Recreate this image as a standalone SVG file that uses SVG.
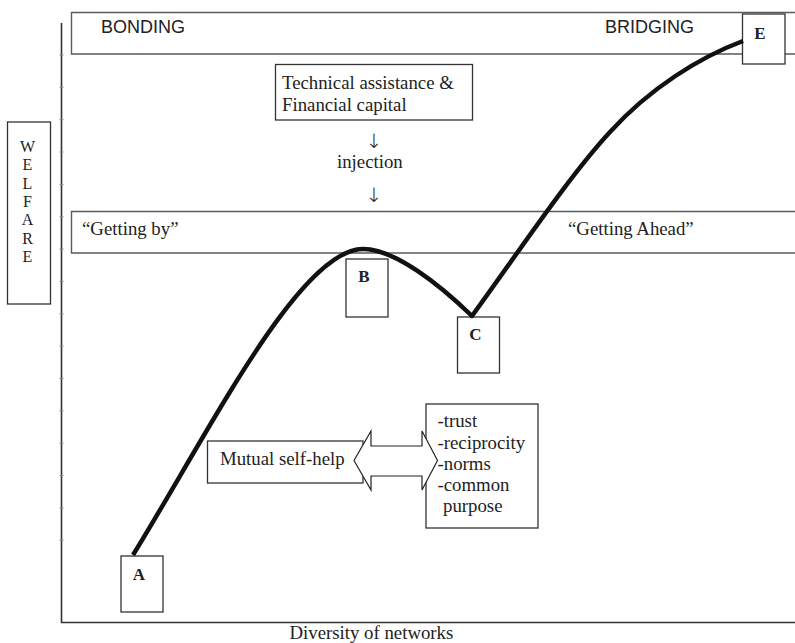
<svg xmlns="http://www.w3.org/2000/svg" width="795" height="643" viewBox="0 0 795 643">
<style>
.ser{font-family:"Liberation Serif","Times New Roman","DejaVu Serif",serif;fill:#222;font-size:18.8px}
.sans{font-family:"Liberation Sans",Arial,sans-serif;fill:#222;font-size:18px}
.lbl{font-family:"Liberation Serif","Times New Roman",serif;fill:#222;font-size:17px;font-weight:bold;text-anchor:middle}
.arr{font-family:"DejaVu Sans",sans-serif;font-weight:200;fill:#222;font-size:20px;text-anchor:middle}
.box{fill:#fff;stroke:#333;stroke-width:1.3}
.band{fill:none;stroke:#5a5a5a;stroke-width:1.4}
.axis{fill:none;stroke:#333;stroke-width:1.6}
.tick{stroke:#888;stroke-width:1}
.curve{fill:none;stroke:#111;stroke-width:4.5;stroke-linejoin:round;stroke-linecap:butt}
</style>
<rect width="795" height="643" fill="#fff"/>
<g id="axes">
<path class="axis" d="M61.5,23 V622.5 H795"/>
<g class="tick">
<path d="M59.5,55H63.5M59.5,87.3H63.5M59.5,119.7H63.5M59.5,152H63.5M59.5,184.4H63.5M59.5,216.7H63.5M59.5,249.1H63.5M59.5,281.4H63.5M59.5,313.8H63.5M59.5,346.1H63.5M59.5,378.5H63.5M59.5,410.8H63.5M59.5,443.2H63.5M59.5,475.5H63.5M59.5,507.9H63.5M59.5,540.2H63.5"/>
</g>
<text class="ser" x="289.5" y="638.5">Diversity of networks</text>
</g>
<g id="welfare">
<rect class="box" x="7.5" y="122" width="43" height="182"/>
<g class="ser" text-anchor="middle">
<text x="27.5" y="152" font-size="16">W</text>
<text x="27.5" y="170.3" font-size="16">E</text>
<text x="27.5" y="188.6" font-size="16">L</text>
<text x="27.5" y="206.9" font-size="16">F</text>
<text x="27.5" y="225.2" font-size="16">A</text>
<text x="27.5" y="243.5" font-size="16">R</text>
<text x="27.5" y="261.8" font-size="16">E</text>
</g>
</g>
<g id="band-top">
<path class="band" d="M795,12.5 H71.5 V54 H795"/>
<text class="sans" x="101" y="33">BONDING</text>
<text class="sans" x="605" y="33">BRIDGING</text>
</g>
<g id="band-mid">
<path class="band" d="M795,211.5 H71.5 V253 H795"/>
<text class="ser" x="82" y="235">“Getting by”</text>
<text class="ser" x="568" y="235">“Getting Ahead”</text>
</g>
<g id="tech">
<rect class="box" x="275.5" y="64.5" width="197" height="55.5"/>
<text class="ser" x="282" y="89" font-size="19.8">Technical assistance &amp;</text>
<text class="ser" x="282" y="111" font-size="19.8">Financial capital</text>
</g>
<g id="injection">
<text class="ser" x="337" y="168">injection</text>
</g>
<g id="mutual">
<rect class="box" x="207.5" y="441" width="155.5" height="42"/>
<text class="ser" x="220" y="465">Mutual self-help</text>
</g>
<g id="values">
<rect class="box" x="426" y="404" width="112" height="124"/>
<text class="ser" x="437.5" y="427">-trust</text>
<text class="ser" x="437.5" y="448.5">-reciprocity</text>
<text class="ser" x="437.5" y="470">-norms</text>
<text class="ser" x="437.5" y="491">-common</text>
<text class="ser" x="443" y="512">purpose</text>
</g>
<g id="A">
<rect class="box" x="121" y="556" width="42" height="56"/>
<text class="lbl" x="139" y="580">A</text>
</g>
<g id="B">
<rect class="box" x="346" y="259" width="42" height="58"/>
<text class="lbl" x="364" y="282">B</text>
</g>
<g id="C">
<rect class="box" x="457.5" y="317" width="42" height="56"/>
<text class="lbl" x="475.5" y="340">C</text>
</g>
<g id="E">
<rect class="box" x="742.5" y="14" width="42.5" height="50"/>
<text class="lbl" x="760" y="38.5">E</text>
</g>
<g id="connectors">
<path class="curve" d="M133,555 C210,430 300,249 363,249 C395,249 440,285 472,316 C520,250 570,175 610,132 C650,88 700,57 743,41"/>
<polygon points="354,460.5 371,431 371,446 422,446 422,431 437.5,460.5 422,490 422,476 371,476 371,490" fill="#fff" stroke="#222" stroke-width="1.2" stroke-linejoin="miter"/>
<text class="arr" x="374" y="148">↓</text>
<text class="arr" x="374" y="202">↓</text>
</g>
</svg>
